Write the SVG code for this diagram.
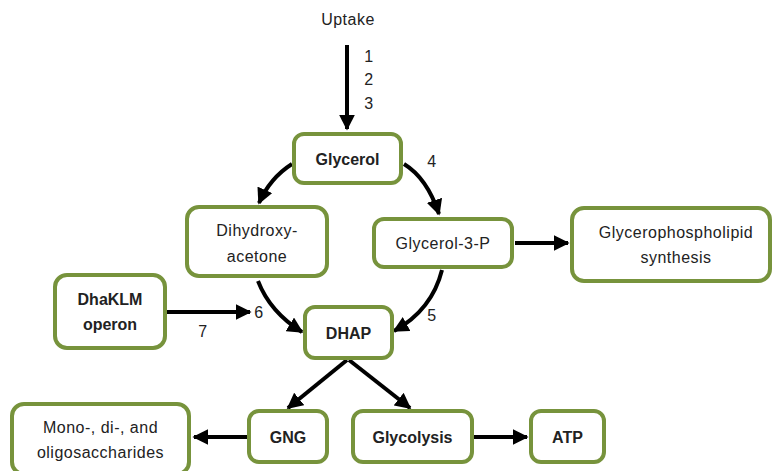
<svg xmlns="http://www.w3.org/2000/svg" width="774" height="471" viewBox="0 0 774 471">
<defs>
<marker id="ah" viewBox="0 0 10 10" refX="9" refY="5" markerWidth="4" markerHeight="4" orient="auto" markerUnits="strokeWidth">
<path d="M0,0 L10,5 L0,10 z" fill="#000"/>
</marker>
</defs>
<style>
.box{fill:#fff;stroke:#77933C;stroke-width:4}
.t{font-family:"Liberation Sans",Arial,sans-serif;font-size:16px;fill:#222;text-anchor:middle;letter-spacing:0.5px}
.b{font-weight:bold;letter-spacing:0}
.c{fill:none;stroke:#000;stroke-width:4;marker-end:url(#ah)}
</style>
<rect width="774" height="471" fill="#fff"/>
<g id="uptake"><text class="t" x="348" y="25">Uptake</text></g>
<g id="labels">
<text class="t" x="369" y="62">1</text>
<text class="t" x="369" y="85">2</text>
<text class="t" x="369" y="109">3</text>
<text class="t" x="432" y="167">4</text>
<text class="t" x="432" y="321">5</text>
<text class="t" x="259" y="318">6</text>
<text class="t" x="203" y="337">7</text>
</g>
<g id="connectors">
<path class="c" d="M347,45 L347,129"/>
<path class="c" d="M292,164 Q270,178 259,203"/>
<path class="c" d="M404,164 Q427,178 439,214"/>
<path class="c" d="M258,281 Q270,312 302,332"/>
<path class="c" d="M442,270 Q432,310 394,331"/>
<path class="c" d="M167,312 L250,312"/>
<path class="c" d="M515,243 L568,243"/>
<path class="c" d="M347,360 L288,408"/>
<path class="c" d="M349,360 L410,408"/>
<path class="c" d="M247,437 L194,437"/>
<path class="c" d="M474,437 L527,437"/>
</g>
<g id="glycerol"><rect class="box" x="294" y="134" width="107" height="49" rx="10"/><text class="t b" x="347.5" y="165">Glycerol</text></g>
<g id="dihydroxyacetone"><rect class="box" x="187" y="207" width="140" height="69" rx="12"/><text class="t" x="257" y="236">Dihydroxy-</text><text class="t" x="257" y="262">acetone</text></g>
<g id="g3p"><rect class="box" x="374" y="219" width="138" height="48" rx="10"/><text class="t" x="443" y="249">Glycerol-3-P</text></g>
<g id="gpl"><rect class="box" x="572" y="208" width="198" height="73" rx="12"/><text class="t" x="676" y="238">Glycerophospholipid</text><text class="t" x="676" y="263">synthesis</text></g>
<g id="dhaklm"><rect class="box" x="55" y="275" width="110" height="73" rx="12"/><text class="t b" x="110" y="305">DhaKLM</text><text class="t b" x="110" y="330">operon</text></g>
<g id="dhap"><rect class="box" x="305" y="307" width="87" height="51" rx="10"/><text class="t b" x="348.5" y="339">DHAP</text></g>
<g id="mono"><rect class="box" x="12" y="404" width="177" height="70" rx="12"/><text class="t" x="100.5" y="433">Mono-, di-, and</text><text class="t" x="100.5" y="458">oligosaccharides</text></g>
<g id="gng"><rect class="box" x="249" y="411" width="78" height="51" rx="10"/><text class="t b" x="288" y="443">GNG</text></g>
<g id="glycolysis"><rect class="box" x="353" y="411" width="119" height="51" rx="10"/><text class="t b" x="412.5" y="443">Glycolysis</text></g>
<g id="atp"><rect class="box" x="531" y="411" width="73" height="51" rx="10"/><text class="t b" x="567.5" y="443">ATP</text></g>
</svg>
